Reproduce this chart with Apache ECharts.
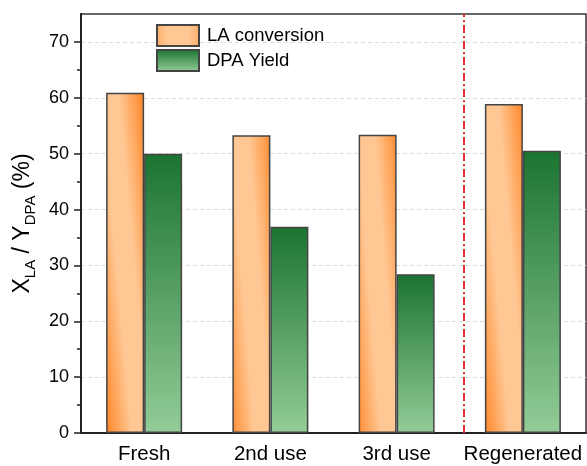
<!DOCTYPE html>
<html>
<head>
<meta charset="utf-8">
<script src="https://cdn.jsdelivr.net/npm/echarts@6/dist/echarts.min.js"></script>
<style>
html, body { margin: 0; padding: 0; background: #fff; }
#container { width: 587px; height: 466px; }
</style>
</head>
<body>
<div id="container"></div>
<script>
// data
var categories = ['Fresh', '2nd use', '3rd use', 'Regenerated'];
var laConversion = [60.9, 53.3, 53.4, 58.9];
var dpaYield = [50.0, 36.9, 28.4, 50.5];
var yMajorTicks = [0, 10, 20, 30, 40, 50, 60, 70];
var yMinorTicks = [5, 15, 25, 35, 45, 55, 65];
var dividerAt = 3.53; // dash-dot separator, in 1-based category position

var font = '"Liberation Sans", Arial, Helvetica, sans-serif';

// orange: light stripe running diagonally down the bar, orange on both sides
var orangeFill = new echarts.graphic.LinearGradient(-0.49, 0.51, 1.49, 0.49, [
    { offset: 0, color: '#ff7a14' },
    { offset: 0.38, color: '#ffc793' },
    { offset: 0.62, color: '#ffc793' },
    { offset: 1, color: '#ff7a14' }
]);
var greenFill = new echarts.graphic.LinearGradient(0, 0, 0, 1, [
    { offset: 0, color: '#1b7431' },
    { offset: 1, color: '#93cc98' }
]);

var myChart = echarts.init(document.getElementById('container'));
var option = {
    backgroundColor: '#fff',
    animation: false,
    grid: {
        left: 81, right: 1, top: 14, bottom: 33,
        show: true, borderColor: '#333', borderWidth: 1.5
    },
    legend: {
        orient: 'vertical',
        left: 151,
        top: 19,
        itemWidth: 42,
        itemHeight: 21,
        itemGap: 2,
        icon: 'rect',
        textStyle: { fontSize: 18.5, color: '#000', fontFamily: font, padding: [0, 0, 0, 3] },
        data: ['LA conversion', 'DPA Yield']
    },
    xAxis: [
        {
            type: 'category',
            data: categories,
            axisLine: { lineStyle: { color: '#222', width: 2 } },
            axisTick: { alignWithLabel: true, length: 8, lineStyle: { color: '#222', width: 1.5 } },
            axisLabel: { interval: 0, hideOverlap: false, fontSize: 20.5, color: '#000', margin: 11, fontFamily: font },
            splitLine: { show: false }
        },
        {
            // helper scale for the separator line
            type: 'value', min: 0.5, max: 4.5, show: false
        }
    ],
    yAxis: [
        {
            type: 'value',
            min: 0, max: 75, interval: 10,
            name: '{m|X}{s|LA}{m| / Y}{s|DPA}{m| (%)}',
            nameLocation: 'middle',
            nameGap: 34,
            nameTextStyle: {
                color: '#000',
                fontFamily: font,
                rich: {
                    m: { fontSize: 23, lineHeight: 30, color: '#000', fontFamily: font },
                    s: { fontSize: 15, lineHeight: 16, verticalAlign: 'bottom', color: '#000', fontFamily: font }
                }
            },
            axisLine: { show: true, lineStyle: { color: '#222', width: 2 } },
            axisTick: { show: true, length: 7, customValues: yMajorTicks, lineStyle: { color: '#222', width: 1.5 } },
            axisLabel: { customValues: yMajorTicks, fontSize: 18, color: '#000', margin: 12, fontFamily: font },
            splitLine: { show: true, lineStyle: { color: '#dcdcdc', width: 1, type: [4, 3] } }
        },
        {
            type: 'value',
            min: 0, max: 75,
            position: 'left',
            axisLine: { show: true, lineStyle: { color: '#222', width: 2 } },
            axisTick: { show: true, length: 4, customValues: yMinorTicks, lineStyle: { color: '#222', width: 1.5 } },
            axisLabel: { show: false },
            splitLine: { show: false }
        }
    ],
    series: [
        {
            name: 'LA conversion',
            type: 'bar',
            data: laConversion,
            barWidth: 38,
            barGap: '0%',
            itemStyle: { color: orangeFill, borderColor: '#444', borderWidth: 1.5 }
        },
        {
            name: 'DPA Yield',
            type: 'bar',
            data: dpaYield,
            barWidth: 38,
            itemStyle: { color: greenFill, borderColor: '#444', borderWidth: 1.5 }
        },
        {
            type: 'line',
            xAxisIndex: 1,
            data: [],
            markLine: {
                silent: true,
                symbol: ['none', 'none'],
                label: { show: false },
                lineStyle: { color: '#e02f2f', width: 2, type: [8, 3, 2, 3] },
                data: [{ xAxis: dividerAt }]
            }
        }
    ]
};
myChart.setOption(option);
</script>
</body>
</html>
